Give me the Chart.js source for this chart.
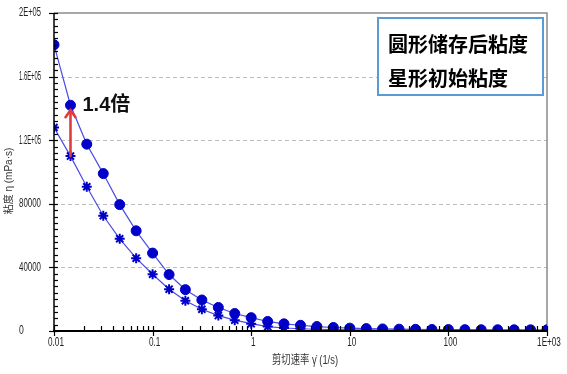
<!DOCTYPE html>
<html>
<head>
<meta charset="utf-8">
<script src="https://cdn.jsdelivr.net/npm/chart.js@4/dist/chart.umd.min.js"></script>
<style>
html,body{margin:0;padding:0;background:#fff;}
#wrap{width:567px;height:374px;position:relative;}
</style>
</head>
<body>
<div id="wrap"><canvas id="c" width="567" height="374"></canvas></div>
<script>
// ---- data ----
const shearRates = [0.01, 0.0147, 0.0215, 0.0316, 0.0464, 0.0681, 0.1, 0.147, 0.215, 0.316, 0.464, 0.681,
  1, 1.47, 2.15, 3.16, 4.64, 6.81, 10, 14.7, 21.5, 31.6, 46.4, 68.1, 100, 147, 215, 316, 464, 681, 1000];
const circleViscosity = [180000, 142000, 117500, 99000, 79500, 63000, 49000, 35500, 26000, 19500, 14800, 11000,
  8400, 6000, 4500, 3600, 2800, 2200, 1800, 1500, 1300, 1150, 1050, 950, 900, 850, 800, 780, 760, 740, 720];
const starViscosity = [128000, 110000, 90700, 72500, 58000, 45800, 35700, 26300, 19000, 13700, 9700, 6800,
  4600, 2800, 1900, 1400, 1100, 900, 780, 680, 600, 540, 490, 450, 420, 400, 380, 360, 345, 330, 320];
const seriesNames = ['圆形储存后粘度', '星形初始粘度'];
const xTickValues = [0.01, 0.1, 1, 10, 100, 1000];
const xTickLabels = ['0.01', '0.1', '1', '10', '100', '1E+03'];
const yTickValues = [0, 40000, 80000, 120000, 160000, 200000];
const yTickLabels = ['0', '40000', '80000', '1.2E+05', '1.6E+05', '2E+05'];
const xTitle = '剪切速率 γ̇ (1/s)';
const yTitle = '粘度 η (mPa·s)';
const annotationText = '1.4倍';
const annotationIndex = 1;

const labelFont = '12px "Liberation Sans", Arial, sans-serif';

function squeezedText(ctx, text, x, y, align, sx) {
  const w = ctx.measureText(text).width;
  ctx.save();
  ctx.translate(x, y);
  ctx.scale(sx, 1);
  ctx.textAlign = 'left';
  let ox = 0;
  if (align === 'center') ox = -w / 2;
  else if (align === 'right') ox = -w;
  ctx.fillText(text, ox, 0);
  ctx.restore();
}

const decor = {
  id: 'decor',
  beforeDatasetsDraw(chart) {
    const {ctx, chartArea: a, scales: {x, y}} = chart;
    ctx.save();
    ctx.strokeStyle = '#BDBDBD';
    ctx.lineWidth = 1;
    ctx.setLineDash([4, 3]);
    yTickValues.forEach(v => {
      if (v === 0 || v === 200000) return;
      const py = Math.round(y.getPixelForValue(v)) + 0.5;
      ctx.beginPath(); ctx.moveTo(a.left, py); ctx.lineTo(a.right, py); ctx.stroke();
    });
    ctx.setLineDash([]);
    ctx.strokeStyle = '#8C8C8C';
    ctx.lineWidth = 1.5;
    ctx.beginPath();
    ctx.moveTo(a.left, a.top); ctx.lineTo(a.right, a.top); ctx.lineTo(a.right, a.bottom);
    ctx.stroke();
    ctx.restore();
  },
  afterDatasetsDraw(chart) {
    const {ctx, chartArea: a, scales: {x, y}} = chart;
    ctx.save();
    // axes lines
    ctx.strokeStyle = '#000';
    ctx.lineWidth = 1.5;
    ctx.beginPath(); ctx.moveTo(a.left, a.top); ctx.lineTo(a.left, a.bottom + 1); ctx.stroke();
    ctx.lineWidth = 2;
    ctx.beginPath(); ctx.moveTo(a.left - 1, a.bottom); ctx.lineTo(a.right, a.bottom); ctx.stroke();
    // y ticks
    ctx.lineWidth = 1.2;
    for (let v = 0; v <= 200000; v += 4000) {
      const py = Math.round(y.getPixelForValue(v)) + 0.5;
      const major = v % 40000 === 0;
      ctx.beginPath();
      ctx.moveTo(major ? a.left - 5 : a.left, py);
      ctx.lineTo(a.left + 4, py);
      ctx.stroke();
    }
    // x ticks
    for (let e = -2; e <= 3; e++) {
      for (let m = 1; m <= 9; m++) {
        const v = m * Math.pow(10, e);
        if (v > 1000) break;
        const px = Math.round(x.getPixelForValue(v)) + 0.5;
        ctx.beginPath();
        if (m === 1) { ctx.moveTo(px, a.bottom - 5); ctx.lineTo(px, a.bottom + 5); }
        else { ctx.moveTo(px, a.bottom - 5); ctx.lineTo(px, a.bottom); }
        ctx.stroke();
      }
    }
    // tick labels
    ctx.fillStyle = '#222';
    ctx.font = labelFont;
    ctx.textBaseline = 'middle';
    yTickValues.forEach((v, i) => {
      const t = yTickLabels[i];
      const w = ctx.measureText(t).width;
      const sx = Math.min(0.72, 22 / w);
      squeezedText(ctx, t, 19, y.getPixelForValue(v), 'left', sx);
    });
    ctx.textBaseline = 'top';
    xTickValues.forEach((v, i) => {
      squeezedText(ctx, xTickLabels[i], x.getPixelForValue(v) + 2, a.bottom + 6, 'center', 0.68);
    });
    // annotation arrow
    const ax = x.getPixelForValue(shearRates[annotationIndex]);
    const y0 = y.getPixelForValue(starViscosity[annotationIndex]);
    const y1 = y.getPixelForValue(circleViscosity[annotationIndex]) + 5;
    ctx.strokeStyle = '#E23B3B';
    ctx.lineWidth = 2.6;
    ctx.lineCap = 'round';
    ctx.beginPath(); ctx.moveTo(ax, y0); ctx.lineTo(ax, y1); ctx.stroke();
    ctx.beginPath(); ctx.moveTo(ax - 5, y1 + 7); ctx.lineTo(ax, y1); ctx.lineTo(ax + 5, y1 + 7); ctx.stroke();
    ctx.lineCap = 'butt';
    // annotation text
    ctx.fillStyle = '#111';
    ctx.font = 'bold 20px "Liberation Sans", "Noto Sans CJK SC", sans-serif';
    ctx.textBaseline = 'middle';
    ctx.textAlign = 'left';
    ctx.fillText(annotationText, ax + 12, y.getPixelForValue(circleViscosity[annotationIndex]));
    // legend box
    ctx.fillStyle = '#fff';
    ctx.fillRect(378, 18, 165, 77);
    ctx.strokeStyle = '#5B9BD5';
    ctx.lineWidth = 2;
    ctx.strokeRect(378, 18, 165, 77);
    ctx.fillStyle = '#000';
    ctx.font = 'bold 20px "Noto Sans CJK SC", sans-serif';
    ctx.fillText(seriesNames[0], 388, 44);
    ctx.fillText(seriesNames[1], 388, 78);
    // axis titles
    ctx.fillStyle = '#333';
    ctx.font = '12px "Liberation Sans", "Noto Sans CJK SC", sans-serif';
    ctx.textBaseline = 'middle';
    squeezedText(ctx, xTitle, 305, 361, 'center', 0.78);
    ctx.save();
    ctx.translate(9, 181);
    ctx.rotate(-Math.PI / 2);
    ctx.font = '10px "Liberation Sans", "Noto Sans CJK SC", sans-serif';
    ctx.textAlign = 'center';
    ctx.fillText(yTitle, 0, 0);
    ctx.restore();
    ctx.restore();
  }
};

new Chart(document.getElementById('c'), {
  type: 'line',
  data: {
    datasets: [
      {
        label: seriesNames[0],
        data: shearRates.map((v, i) => ({x: v, y: circleViscosity[i]})),
        borderColor: '#4B4BE6',
        borderWidth: 1.2,
        pointStyle: 'circle',
        pointRadius: 5,
        pointBackgroundColor: '#0000C8',
        pointBorderColor: '#0000C8',
        pointBorderWidth: 1,
        tension: 0,
        fill: false
      },
      {
        label: seriesNames[1],
        data: shearRates.map((v, i) => ({x: v, y: starViscosity[i]})),
        borderColor: '#4B4BE6',
        borderWidth: 1.2,
        pointStyle: 'star',
        pointRadius: 5,
        pointBackgroundColor: '#0000C8',
        pointBorderColor: '#0000C8',
        pointBorderWidth: 2,
        tension: 0,
        fill: false
      }
    ]
  },
  options: {
    responsive: false,
    animation: false,
    layout: {padding: {top: 13, right: 20, left: 0, bottom: 0}},
    plugins: {legend: {display: false}, tooltip: {enabled: false}},
    scales: {
      x: {
        type: 'logarithmic',
        min: 0.01, max: 1000,
        grid: {display: false},
        border: {display: false},
        ticks: {display: false},
        afterFit: s => { s.height = 43; }
      },
      y: {
        type: 'linear',
        min: 0, max: 200000,
        grid: {display: false},
        border: {display: false},
        ticks: {display: false},
        afterFit: s => { s.width = 54; }
      }
    }
  },
  plugins: [decor]
});
</script>
</body>
</html>
